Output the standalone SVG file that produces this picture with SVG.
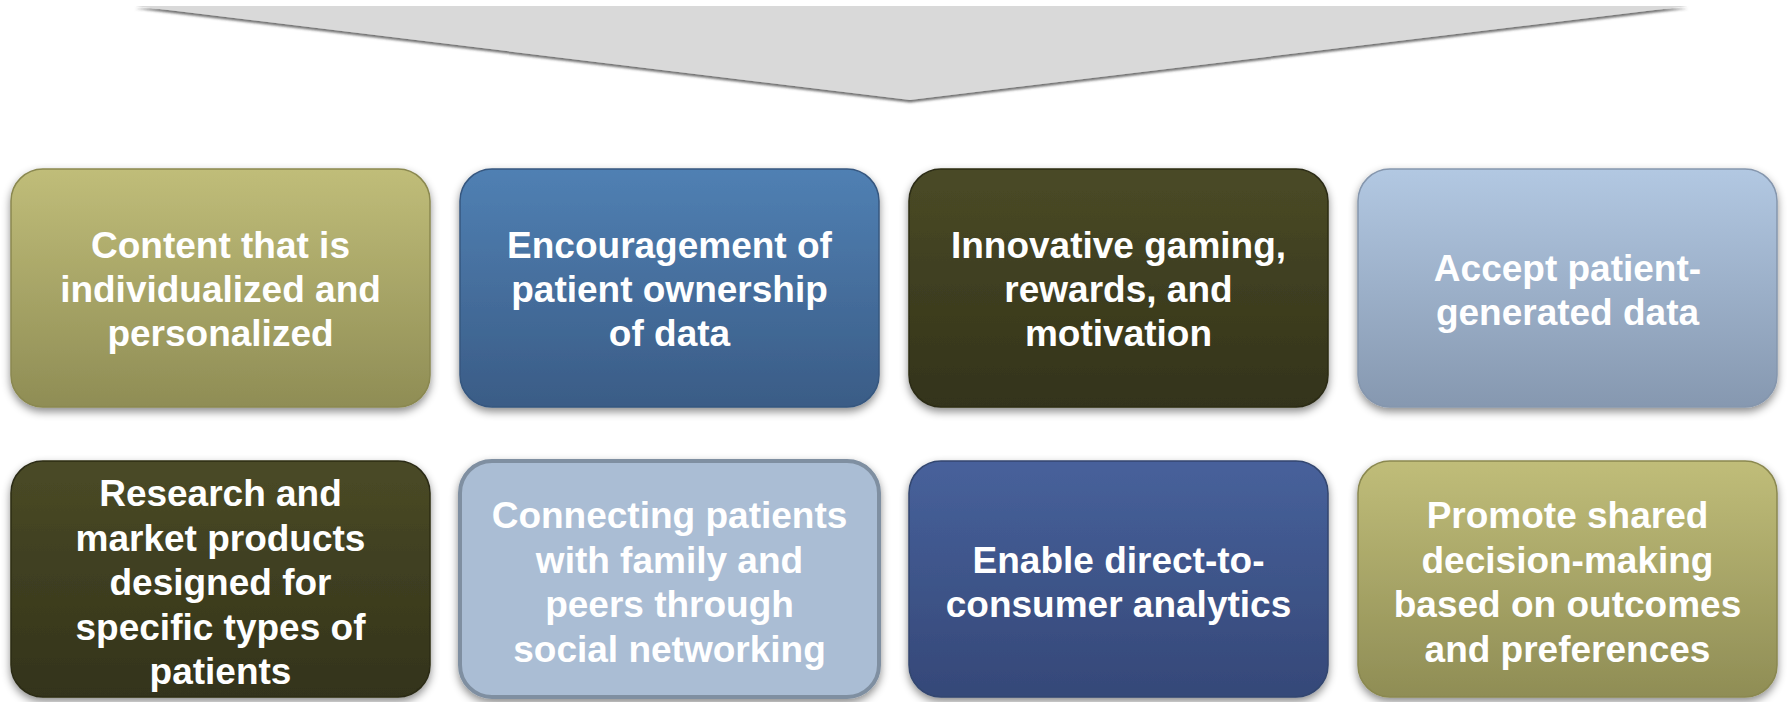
<svg xmlns="http://www.w3.org/2000/svg" width="1791" height="702" viewBox="0 0 1791 702">
<defs>
<filter id="tshadow" x="-5%" y="-20%" width="110%" height="150%">
<feDropShadow dx="0" dy="2.5" stdDeviation="1.2" flood-color="#404040" flood-opacity="0.75"/>
</filter>
<filter id="bshadow" x="-10%" y="-10%" width="120%" height="125%">
<feDropShadow dx="0" dy="4" stdDeviation="4" flood-color="#000" flood-opacity="0.45"/>
</filter>
<linearGradient id="gOlive" x1="0" y1="0" x2="0" y2="1">
<stop offset="0" stop-color="#c0bd79"/><stop offset="1" stop-color="#8f8d55"/>
</linearGradient>
<linearGradient id="gBlue" x1="0" y1="0" x2="0" y2="1">
<stop offset="0" stop-color="#5080b3"/><stop offset="1" stop-color="#3a5c86"/>
</linearGradient>
<linearGradient id="gDark" x1="0" y1="0" x2="0" y2="1">
<stop offset="0" stop-color="#4a4a26"/><stop offset="1" stop-color="#33331a"/>
</linearGradient>
<linearGradient id="gLight" x1="0" y1="0" x2="0" y2="1">
<stop offset="0" stop-color="#b2c8e2"/><stop offset="1" stop-color="#8698b0"/>
</linearGradient>
<linearGradient id="gNavy" x1="0" y1="0" x2="0" y2="1">
<stop offset="0" stop-color="#47619b"/><stop offset="1" stop-color="#354878"/>
</linearGradient>
</defs>
<style>
.box{filter:url(#bshadow);stroke-width:1.5}
.olive{fill:url(#gOlive);stroke:#8a8850}
.blue{fill:url(#gBlue);stroke:#36577f}
.dark{fill:url(#gDark);stroke:#2c2c16}
.light{fill:url(#gLight);stroke:#8596ad}
.flat{fill:#aabdd4;stroke:#7f8fa1;stroke-width:4}
.navy{fill:url(#gNavy);stroke:#33466f}
.t{font-family:"Liberation Sans",Arial,sans-serif;font-weight:bold;font-size:37px;fill:#fff;text-anchor:middle}
</style>
<polygon points="135,6 1688,6 910,100" fill="#d9d9d9" filter="url(#tshadow)"/>
<g id="connectors"></g>
<g id="n1"><rect class="box olive" x="11" y="169" width="419" height="238" rx="32"/>
<text class="t" x="220.5" y="258">Content that is</text><text class="t" x="220.5" y="302">individualized and</text><text class="t" x="220.5" y="346">personalized</text></g>
<g id="n2"><rect class="box blue" x="460" y="169" width="419" height="238" rx="32"/>
<text class="t" x="669.5" y="258">Encouragement of</text><text class="t" x="669.5" y="302">patient ownership</text><text class="t" x="669.5" y="346">of data</text></g>
<g id="n3"><rect class="box dark" x="909" y="169" width="419" height="238" rx="32"/>
<text class="t" x="1118.5" y="258">Innovative gaming,</text><text class="t" x="1118.5" y="302">rewards, and</text><text class="t" x="1118.5" y="346">motivation</text></g>
<g id="n4"><rect class="box light" x="1358" y="169" width="419" height="238" rx="32"/>
<text class="t" x="1567.5" y="281">Accept patient-</text><text class="t" x="1567.5" y="325">generated data</text></g>
<g id="n5"><rect class="box dark" x="11" y="461" width="419" height="236" rx="32"/>
<text class="t" x="220.5" y="506">Research and</text><text class="t" x="220.5" y="550.5">market products</text><text class="t" x="220.5" y="595">designed for</text><text class="t" x="220.5" y="639.5">specific types of</text><text class="t" x="220.5" y="684">patients</text></g>
<g id="n6"><rect class="box flat" x="460" y="461" width="419" height="236" rx="32"/>
<text class="t" x="669.5" y="528">Connecting patients</text><text class="t" x="669.5" y="572.5">with family and</text><text class="t" x="669.5" y="617">peers through</text><text class="t" x="669.5" y="661.5">social networking</text></g>
<g id="n7"><rect class="box navy" x="909" y="461" width="419" height="236" rx="32"/>
<text class="t" x="1118.5" y="573">Enable direct-to-</text><text class="t" x="1118.5" y="617">consumer analytics</text></g>
<g id="n8"><rect class="box olive" x="1358" y="461" width="419" height="236" rx="32"/>
<text class="t" x="1567.5" y="528">Promote shared</text><text class="t" x="1567.5" y="572.5">decision-making</text><text class="t" x="1567.5" y="617">based on outcomes</text><text class="t" x="1567.5" y="661.5">and preferences</text></g>
</svg>
